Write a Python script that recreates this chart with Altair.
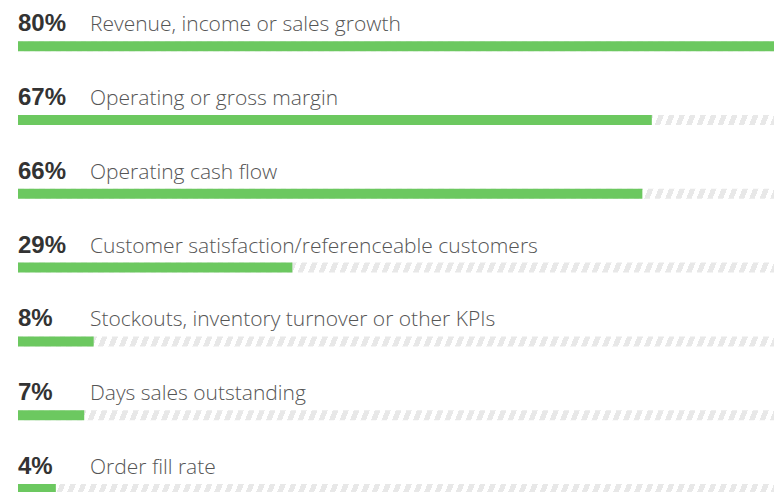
import altair as alt
import pandas as pd

categories = [
    "Revenue, income or sales growth",
    "Operating or gross margin",
    "Operating cash flow",
    "Customer satisfaction/referenceable customers",
    "Stockouts, inventory turnover or other KPIs",
    "Days sales outstanding",
    "Order fill rate",
]
values = [80, 67, 66, 29, 8, 7, 4]
total = [100] * len(values)

df = pd.DataFrame({
    "row": list(range(len(categories))),
    "category": categories,
    "value": values,
    "total": total,
    "label": [f"{v}%" for v in values],
})

W = 756          # plot width in px (page x 18 -> 774)
H = 484          # plot height in px (page y 8 -> 492)
PX_PER_PCT = 9.46
XMAX = W / PX_PER_PCT
ROW_STEP = 75.33
FIRST = 34
d0 = -FIRST / ROW_STEP
d1 = d0 + H / ROW_STEP

# striped background via hard-stop gradient
track_w = 100 * PX_PER_PCT
period = 10.5
gray_w = 5.5
lean = 4.0
stops = []
i = 0
while (i * period) < track_w:
    a = i * period / track_w
    b = min((i * period + gray_w) / track_w, 1)
    c = min(((i + 1) * period) / track_w, 1)
    stops += [
        alt.GradientStop(offset=a, color="#e8e8e8"),
        alt.GradientStop(offset=b, color="#e8e8e8"),
        alt.GradientStop(offset=b, color="#ffffff"),
        alt.GradientStop(offset=c, color="#ffffff"),
    ]
    i += 1

stripes = alt.LinearGradient(gradient="linear", stops=stops,
                             x1=0, y1=0, x2=1, y2=lean / track_w)

xs = alt.Scale(domain=[0, XMAX], zero=True, nice=False)
ys = alt.Scale(domain=[d0, d1], reverse=True, nice=False, zero=False)

base = alt.Chart(df).encode(
    y=alt.Y("row:Q", scale=ys, axis=None),
)

track = base.mark_bar(orient="horizontal", size=10, color=stripes, clip=True).encode(
    x=alt.X("total:Q", scale=xs, axis=None),
)
bars = base.mark_bar(orient="horizontal", size=10, color="#6cc860", clip=True).encode(
    x=alt.X("value:Q", scale=xs, axis=None),
)
pct = base.mark_text(align="left", baseline="alphabetic", dy=-15,
                     font="Liberation Sans", fontWeight="bold", fontSize=24,
                     color="#333333").encode(
    x=alt.value(0), text="label:N")
lab = base.mark_text(align="left", baseline="alphabetic", dy=-15,
                     font="Open Sans", fontWeight=300, fontSize=21, color="#555555").encode(
    x=alt.value(72), text="category:N")

chart = alt.layer(track, bars, pct, lab).properties(
    width=W, height=H,
    padding={"left": 10, "top": 0, "right": 0, "bottom": 0},
    autosize=alt.AutoSizeParams(type="none"),
).configure_view(stroke=None)

chart.save("out.html", embed_options={"renderer": "svg", "actions": False})
